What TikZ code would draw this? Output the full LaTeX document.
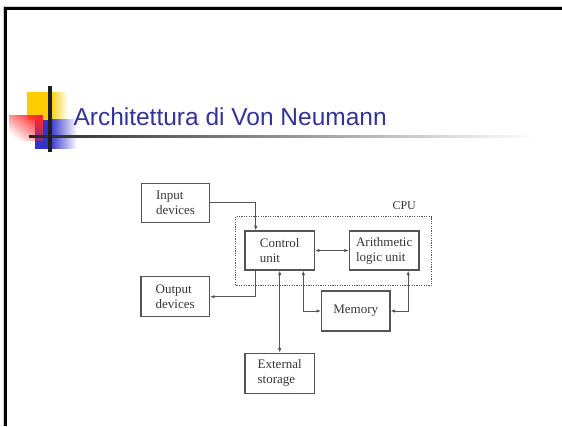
\documentclass[tikz,border=0pt]{standalone}
\usepackage{fontspec}
\setmainfont{Liberation Serif}
\newfontfamily\titlefont{Liberation Sans}
\usetikzlibrary{arrows.meta,fadings}
\definecolor{titleblue}{RGB}{51,51,153}
\definecolor{logoyellow}{RGB}{255,204,0}
\definecolor{logoblue}{RGB}{51,51,204}
\definecolor{logored}{RGB}{255,40,40}
\definecolor{linegray}{RGB}{85,85,85}
\definecolor{textgray}{RGB}{55,55,55}
\tikzfading[name=redfade, left color=transparent!100, right color=transparent!0]
\tikzset{
  unitbox/.style={draw=linegray, line width=1.2pt, rectangle, align=left,
    text=textgray, font=\fontsize{13}{15}\selectfont, inner sep=0pt},
  conn/.style={draw=linegray, line width=1pt},
  tip/.style={-{Latex[length=4.5pt,width=3.5pt]}},
  btip/.style={{Latex[length=4.5pt,width=3.5pt]}-{Latex[length=4.5pt,width=3.5pt]}},
}
\begin{document}
\begin{tikzpicture}[x=1pt,y=-1pt]
\useasboundingbox (0,0) rectangle (562,426);
\fill[white] (0,0) rectangle (562,426);
% slide frame
\fill[black!20] (3,6) rectangle (562,7);
\fill[black!20] (3,6) rectangle (4,426);
\fill[black] (4,7) rectangle (562,10.3);
\fill[black] (4,7) rectangle (7.3,426);
% logo
\fill[logoyellow] (26.7,92) rectangle (50,120.3);
\shade[left color=logoyellow, right color=white] (49.9,92) rectangle (68,120.3);
\fill[logoblue] (35,119.7) rectangle (50,148.7);
\shade[left color=logoblue, right color=white] (49.9,119.7) rectangle (77,148.7);
\fill[logored, path fading=redfade, fading angle=45] (9.3,114.7) rectangle (43.3,141.3);
\shade[left color=black!85, middle color=black!55, right color=white] (29,135.7) rectangle (535,137.7);
\fill[black!88] (47.8,86) rectangle (52.2,152);
% title
\node[anchor=base west, inner sep=0pt, text=titleblue, font=\titlefont\fontsize{24.5}{28}\selectfont] (title) at (73.3,125) {Architettura di Von Neumann};
% CPU frame
\draw[linegray, line width=1pt, dash pattern=on 1.2pt off 1.2pt] (235.7,216.7) rectangle (431.7,285.7);
\node[text=textgray, font=\fontsize{12}{14}\selectfont, inner sep=0pt] (cpu) at (404.2,206) {CPU};
% units
\node[unitbox, minimum width=67.6pt, minimum height=39pt] (inp) at (175.5,202.8) {Input\\devices};
\node[unitbox, minimum width=69.3pt, minimum height=39pt] (cu) at (279.7,250.5) {Control\\unit};
\node[unitbox, minimum width=69.7pt, minimum height=39pt] (alu) at (384.2,250.5) {Arithmetic\\logic unit};
\node[unitbox, minimum width=68.3pt, minimum height=40pt] (outp) at (175.2,296.7) {Output\\devices};
\node[unitbox, minimum width=68.3pt, minimum height=40pt] (mem) at (355.8,311) {Memory};
\node[unitbox, minimum width=69.3pt, minimum height=40pt] (ext) at (279.7,373.3) {External\\storage};
% connectors
\draw[conn, tip] (inp.east) -| ([xshift=-24pt]cu.north);
\draw[conn, tip] ([xshift=-24pt]cu.south) |- (outp.east);
\draw[conn, btip] (cu.east) -- (alu.west);
\draw[conn, btip] (cu.south) -- (ext.north);
\draw[conn, btip] ([xshift=23.6pt]cu.south) |- (mem.west);
\draw[conn, btip] ([xshift=24pt]alu.south) |- (mem.east);
\end{tikzpicture}
\end{document}
